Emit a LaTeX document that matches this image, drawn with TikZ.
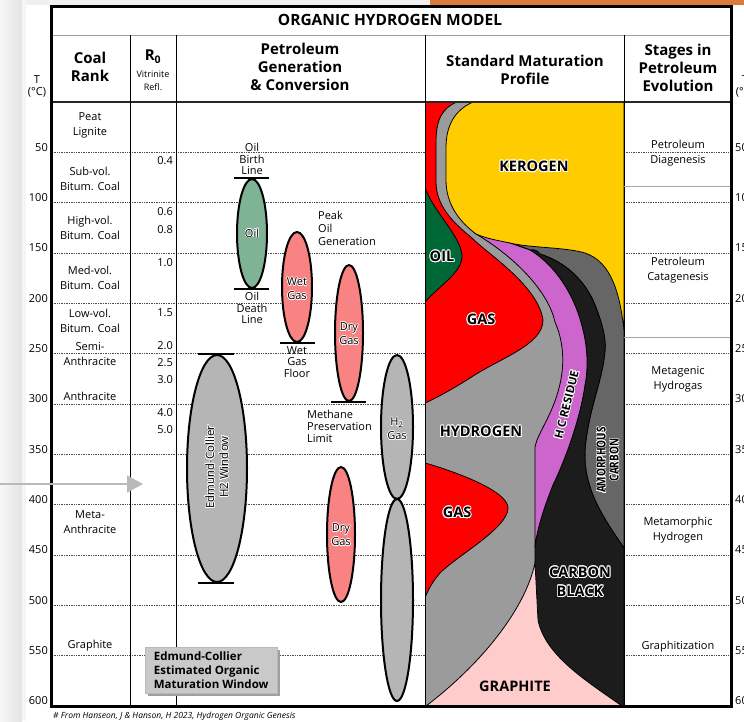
\documentclass[tikz,border=0pt]{standalone}
\usepackage{fontspec}
\setmainfont{Open Sans}
\usepackage[copies]{contour}
\contourlength{0.9pt}
\contournumber{12}
\usetikzlibrary{shapes.geometric, arrows.meta, positioning, calc, shadows}

\definecolor{oilgreen}{HTML}{7FB396}
\definecolor{gaspink}{HTML}{F98282}
\definecolor{ecgray}{HTML}{B5B5B5}
\definecolor{hgray}{HTML}{9B9B9B}
\definecolor{kyellow}{HTML}{FFCC00}
\definecolor{gasred}{HTML}{FF0000}
\definecolor{oildark}{HTML}{006837}
\definecolor{hcpurple}{HTML}{CC66CC}
\definecolor{cblack}{HTML}{1C1C1C}
\definecolor{amgray}{HTML}{666666}
\definecolor{gpink}{HTML}{FFCCCC}
\definecolor{boxgray}{HTML}{C9C9C9}
\definecolor{slideorange}{HTML}{DB7A3C}

% white outline round a word
\newcommand{\halo}[1]{\contour{white}{#1}}
\newcommand{\thinhalo}[1]{{\contourlength{0.6pt}\contour{white}{#1}}}

\begin{document}
\begin{tikzpicture}[x=1pt, y=-1pt,
    hdr/.style={font=\fontsize{15}{18}\selectfont\bfseries, align=center, inner sep=0pt},
    txt/.style={font=\fontsize{11}{15}\selectfont, align=center, inner sep=0pt},
    tight/.style={font=\fontsize{11}{11.6}\selectfont, align=center, inner sep=0pt},
    tval/.style={font=\fontsize{11}{13}\selectfont, inner sep=0pt},
    zone/.style={ellipse, draw=black, line width=2pt, inner sep=0pt},
    limitbar/.style={line width=2.4pt},
    grid/.style={densely dotted, line width=0.7pt, black!70},
    layer/.style={draw=black, line width=0.8pt},
    plbl/.style={font=\fontsize{14.5}{19}\selectfont\bfseries, align=center, inner sep=0pt}
  ]
  \useasboundingbox (0,0) rectangle (744,721);
  \clip (0,0) rectangle (744,721);

  % slide background
  \shade[left color=gray!6, right color=gray!22] (0,0) rectangle (22,721);
  \fill[gray!8] (22,0) rectangle (26,721);
  \fill[gray!12] (26,0) rectangle (430,5);
  \fill[slideorange] (430,0) rectangle (744,5);

  % standard maturation profile
  \begin{scope}
    \clip (425,102) rectangle (624,706);
    \fill[hgray] (425,102) rectangle (624,706);
    \path[layer, fill=amgray] (500,236) -- (624,236) -- (624,548)
      .. controls (605,520) and (583,490) .. (585,450)
      .. controls (588,410) and (603,380) .. (605,350)
      .. controls (606,340) and (603,325) .. (595,305)
      .. controls (585,280) and (565,262) .. (540,254) -- (520,246) -- cycle;
    \path[layer, fill=cblack] (535,706) -- (535,547)
      .. controls (537,530) and (543,510) .. (553,485)
      .. controls (565,460) and (580,420) .. (585,385)
      .. controls (588,370) and (588,350) .. (583,330)
      .. controls (575,295) and (555,265) .. (530,250)
      .. controls (535,249) and (538,251) .. (540,254)
      .. controls (565,262) and (585,280) .. (595,305)
      .. controls (603,325) and (606,340) .. (605,350)
      .. controls (603,380) and (588,410) .. (585,450)
      .. controls (583,490) and (605,520) .. (624,548) -- (624,706) -- cycle;
    \path[layer, fill=hcpurple] (535,547)
      .. controls (537,530) and (543,510) .. (553,485)
      .. controls (565,460) and (580,420) .. (585,385)
      .. controls (588,370) and (588,350) .. (583,330)
      .. controls (575,295) and (555,265) .. (530,250) -- (490,236) -- (476,234)
      .. controls (512,255) and (548,290) .. (555,322)
      .. controls (565,345) and (565,370) .. (557,395)
      .. controls (550,418) and (537,435) .. (535,447) -- cycle;
    \path[layer, fill=kyellow] (473,102) -- (624,102) -- (624,330)
      .. controls (620,295) and (612,262) .. (585,253)
      .. controls (565,247) and (530,248) .. (510,243)
      .. controls (495,240) and (485,238) .. (476,234)
      .. controls (460,222) and (446,205) .. (446,180) -- (446,148)
      .. controls (446,125) and (455,110) .. (473,102) -- cycle;
    \path[layer, fill=gasred] (425,102) -- (457,102)
      .. controls (442,108) and (436,120) .. (436,142) -- (436,182)
      .. controls (436,205) and (452,222) .. (472,238)
      .. controls (485,252) and (538,285) .. (543,320)
      .. controls (543,345) and (500,358) .. (470,378)
      .. controls (448,392) and (432,400) .. (425,403) -- cycle;
    \path[layer, fill=oildark] (425,187)
      .. controls (432,210) and (460,235) .. (462,255)
      .. controls (463,272) and (440,285) .. (425,302) -- cycle;
    \path[layer, fill=gasred] (425,463)
      .. controls (450,470) and (508,490) .. (508,508)
      .. controls (508,528) and (458,555) .. (440,573)
      .. controls (432,582) and (427,592) .. (425,598) -- cycle;
    \path[layer, fill=gpink] (535,563)
      .. controls (525,610) and (480,665) .. (426,706) -- (622,706)
      .. controls (585,680) and (545,655) .. (538,620) -- cycle;
  \end{scope}

  % temperature grid
  \foreach \t in {50,100,...,550}{
    \draw[grid] (52,{102+\t*1.00667}) -- (425,{102+\t*1.00667});
    \draw[grid] (624,{102+\t*1.00667}) -- (729,{102+\t*1.00667});
  }
  \foreach \t in {50,100,...,600}{
    \node[tval, anchor=east] (tl\t) at (48,{97+\t*1.00667}) {\t};
    \node[tval, anchor=west] (tr\t) at (735,{97+\t*1.00667}) {\t};
  }
  \node[tval] (tlT) at (37,80) {T};
  \node[tval] (tlC) at (37,92) {(°C)};
  \node[tval] (trT) at (745,80) {T};
  \node[tval] (trC) at (745,92) {(°C)};

  % table frame
  \draw[gray!75, line width=1pt] (51,35) -- (731,35);
  \draw[black!85, line width=1.3pt] (51,102) -- (731,102);
  \foreach \cx in {130,176,425,624}
    \draw[line width=0.9pt] (\cx,35) -- (\cx,706);
  \draw[gray!70, line width=1pt] (624,186) -- (731,186);
  \draw[gray!70, line width=1pt] (624,337) -- (731,337);
  \draw[line width=2.6pt] (51.3,6.3) rectangle (731.3,706.5);

  % headers
  \node[hdr, font=\fontsize{15.5}{18}\selectfont\bfseries] (title) at (390,20) {ORGANIC HYDROGEN MODEL};
  \node[hdr] (rankhdr) at (90,67) {Coal\\Rank};
  \node[hdr, font=\fontsize{15}{16}\selectfont\bfseries] (rhdr) at (153,57) {R\textsubscript{0}};
  \node[tval, font=\fontsize{9}{11}\selectfont] (vitr) at (153,74) {Vitrinite};
  \node[tval, font=\fontsize{9}{11}\selectfont] (refl) at (153,87) {Refl.};
  \node[hdr] (genhdr) at (300,67) {Petroleum\\Generation\\\& Conversion};
  \node[hdr] (profhdr) at (525,70) {Standard Maturation\\Profile};
  \node[hdr] (stagehdr) at (678,68) {Stages in\\Petroleum\\Evolution};

  % coal rank
  \node[txt] (peat) at (90,125.5) {Peat\\Lignite};
  \node[txt] (subvol) at (90,178.5) {Sub-vol.\\Bitum. Coal};
  \node[txt] (highvol) at (90,227.5) {High-vol.\\Bitum. Coal};
  \node[txt] (medvol) at (90,277.5) {Med-vol.\\Bitum. Coal};
  \node[txt] (lowvol) at (90,320.5) {Low-vol.\\Bitum. Coal};
  \node[txt] (semi) at (90,354.5) {Semi-\\Anthracite};
  \node[txt] (anthr) at (90,396) {Anthracite};
  \node[txt] (meta) at (90,522) {Meta-\\Anthracite};
  \node[txt] (graph) at (90,646) {Graphite};

  % vitrinite reflectance
  \foreach \rv/\ry in {0.4/161,0.6/212,0.8/230,1.0/263,1.5/313,2.0/346,2.5/363,3.0/380,4.0/413,5.0/430}
    \node[tval, anchor=east] (r\ry) at (173,\ry) {\rv};

  % stages in petroleum evolution
  \node[txt] (diag) at (678,153) {Petroleum\\Diagenesis};
  \node[txt] (catag) at (678,270.5) {Petroleum\\Catagenesis};
  \node[txt] (metag) at (678,379) {Metagenic\\Hydrogas};
  \node[txt] (metam) at (678,530) {Metamorphic\\Hydrogen};
  \node[txt] (graphz) at (678,647) {Graphitization};

  % generation windows
  \node[zone, fill=oilgreen, minimum width=30, minimum height=109] (oil) at (252,233.5) {};
  \node[zone, fill=gaspink, minimum width=30, minimum height=110] (wetgas) at (297,287) {};
  \node[zone, fill=gaspink, minimum width=28, minimum height=136] (drygas) at (349,333) {};
  \node[zone, fill=gaspink, minimum width=28, minimum height=135] (drygasb) at (341,534.5) {};
  \node[zone, fill=ecgray, minimum width=60, minimum height=227] (ecwin) at (217,468.5) {};
  \node[zone, fill=ecgray, minimum width=32, minimum height=144] (htop) at (397,427) {};
  \node[zone, fill=ecgray, minimum width=32, minimum height=202] (hbot) at (397,600) {};

  \draw[limitbar] ([xshift=-18]oil.north) -- ([xshift=17]oil.north);
  \draw[limitbar] ([xshift=-18]oil.south) -- ([xshift=17]oil.south);
  \draw[limitbar] ([xshift=-17]wetgas.south) -- ([xshift=18]wetgas.south);
  \draw[limitbar] ([xshift=-18]drygas.south) -- ([xshift=17]drygas.south);
  \draw[limitbar] ([xshift=-19]ecwin.north) -- ([xshift=17]ecwin.north);
  \draw[limitbar] ([xshift=-19]ecwin.south) -- ([xshift=17]ecwin.south);

  \node[tight, above=3pt of oil.north] (birth) {Oil\\Birth\\Line};
  \node[tight, below=3pt of oil.south] (death) {Oil\\Death\\Line};
  \node[tight, below=3pt of wetgas.south] (floor) {Wet\\Gas\\Floor};
  \node[txt, font=\fontsize{11}{13}\selectfont, align=left, anchor=west] (peak) at (318,228) {Peak\\Oil\\Generation};
  \node[txt, font=\fontsize{11}{12}\selectfont, align=left, anchor=west] (methane) at (307,426) {Methane\\Preservation\\Limit};

  \node[txt] (oiltxt) at (oil.center) {\thinhalo{Oil}};
  \node[txt, font=\fontsize{11}{14}\selectfont] (wettxt) at (297,289) {\thinhalo{Wet}\\\thinhalo{Gas}};
  \node[txt, font=\fontsize{11}{14}\selectfont] (drytxt) at (349,334) {\thinhalo{Dry}\\\thinhalo{Gas}};
  \node[txt, font=\fontsize{11}{14}\selectfont] (drytxtb) at (341,535) {\thinhalo{Dry}\\\thinhalo{Gas}};
  \node[txt, font=\fontsize{11}{14}\selectfont] (htxt) at (397,429) {\thinhalo{H\textsubscript{2}}\\\thinhalo{Gas}};
  \node[txt, font=\fontsize{11.5}{14}\selectfont, rotate=90] (ectxt) at (217,467) {\thinhalo{Edmund-Collier}\\\thinhalo{H2 Window}};

  % profile labels
  \node[plbl] (kerogen) at (534,167) {\halo{KEROGEN}};
  \node[plbl] (oillbl) at (442,257) {\halo{OIL}};
  \node[plbl] (gaslbl) at (481,320) {\halo{GAS}};
  \node[plbl] (hydlbl) at (481,432) {\halo{HYDROGEN}};
  \node[plbl] (gaslblb) at (457,513) {\halo{GAS}};
  \node[plbl] (cblbl) at (580,582) {\halo{CARBON}\\\halo{BLACK}};
  \node[plbl] (grlbl) at (515,686) {GRAPHITE};
  \node[plbl, font=\fontsize{11.5}{14}\selectfont\bfseries, rotate=76] (hclbl) at (567,405) {\halo{H C RESIDUE}};
  \node[plbl, font=\fontsize{12.5}{13}\selectfont\bfseries, rotate=90] (amlbl) at (608,460)
    {\thinhalo{\scalebox{0.8}[1]{AMORPHOUS}}\\\thinhalo{\scalebox{0.8}[1]{CARBON}}};

  % estimated window box
  \node[draw=gray!55, fill=boxgray, drop shadow={shadow xshift=3pt, shadow yshift=-3pt, fill=gray!75, opacity=1},
    font=\fontsize{11.5}{14}\selectfont\bfseries, align=left, anchor=north west,
    minimum width=132, minimum height=46, inner sep=3pt] (ecbox) at (145,647)
    {Edmund-Collier\\Estimated Organic\\Maturation Window};

  \node[anchor=west, inner sep=0pt, font=\fontsize{8.5}{10}\selectfont\itshape] (note) at (53,716)
    {\# From Hanseon, J \& Hanson, H 2023, Hydrogen Organic Genesis};

  % pointer
  \coordinate (arrS) at (0,484);
  \coordinate (arrE) at (143,484);
  \draw[gray!55, line width=1.5pt, -{Triangle[length=16pt, width=17pt]}] (arrS) -- (arrE);
\end{tikzpicture}
\end{document}
